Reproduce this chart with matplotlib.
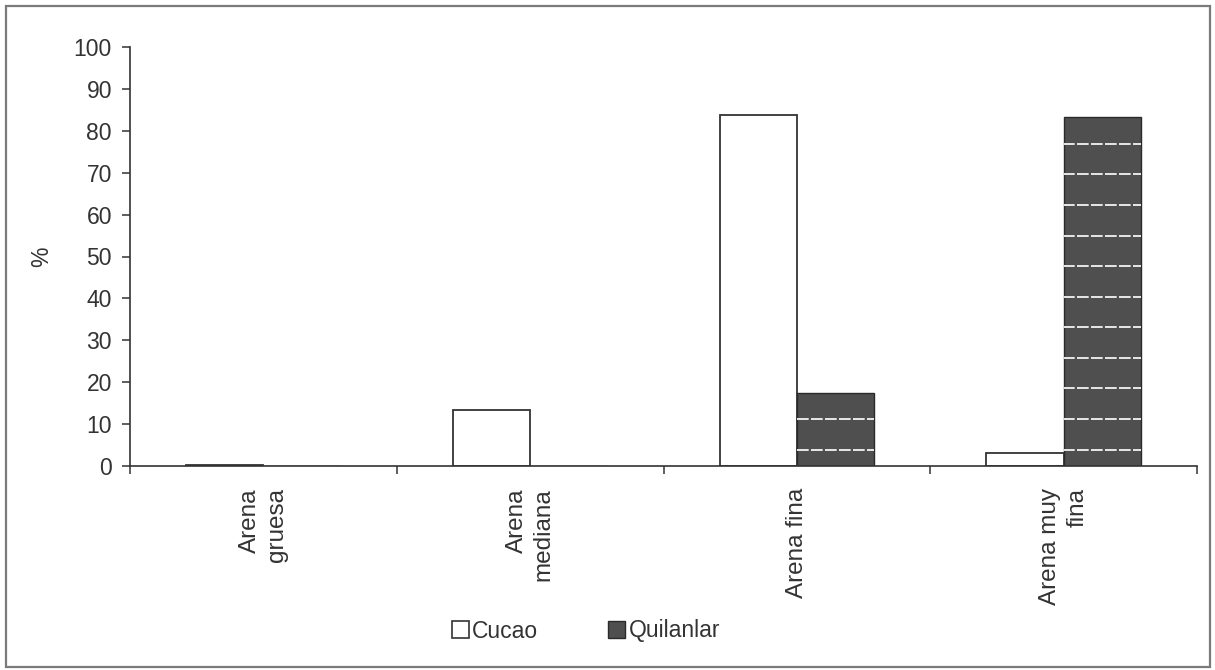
import matplotlib
matplotlib.use("Agg")
import matplotlib.pyplot as plt
from matplotlib.patches import Patch, Rectangle
import numpy as np

categories = ["Arena\ngruesa", "Arena\nmediana", "Arena fina", "Arena muy\nfina"]
series_names = ["Cucao", "Quilanlar"]
cucao = [0.3, 13.3, 83.7, 3.0]
quilanlar = [0.0, 0.0, 17.4, 83.3]
yticks = [0, 10, 20, 30, 40, 50, 60, 70, 80, 90, 100]

plt.rcParams['font.family'] = ['Liberation Sans', 'DejaVu Sans']
FS = 16.5
TXT = '#333333'

fig = plt.figure(figsize=(12.15, 6.70), dpi=100)
ax = fig.add_axes([130/1215, 1-466/670, (1197-130)/1215, (466-47)/670])

x = np.arange(len(categories))
w = 0.29
dark = '#4f4f4f'
b1 = ax.bar(x - w/2, cucao, w, color='white', edgecolor='#333333', linewidth=1.3, zorder=2)
b2 = ax.bar(x + w/2, quilanlar, w, color=dark, edgecolor='#2a2a2a', linewidth=1.0, zorder=2)

# white horizontal hatch lines inside the dark bars
hy = np.arange(3.9, 100, 7.3)
for p in b2.patches:
    if p.get_height() <= 0:
        continue
    lc = ax.hlines(hy, -1, 5, colors='#e8e8e8', linewidth=1.4,
                   linestyles=(0, (6, 1.2)), zorder=3)
    lc.set_clip_path(p)

ax.set_xlim(-0.5, len(categories) - 0.5)
ax.set_ylim(0, 100)
ax.set_yticks(yticks)
ax.set_yticklabels([str(v) for v in yticks], fontsize=FS, color=TXT)

ax.set_xticks(np.arange(len(categories) + 1) - 0.5)
ax.set_xticklabels([])
ax.set_xticks(x, minor=True)
ax.set_xticklabels(categories, minor=True, rotation=90, fontsize=17.5, color=TXT,
                   va='top', ha='center', multialignment='right', linespacing=1.3)
ax.tick_params(axis='x', which='major', direction='out', length=6, width=1.1, color='#333333')
ax.tick_params(axis='x', which='minor', length=0, pad=16)
ax.tick_params(axis='y', direction='out', length=6, width=1.1, color='#333333', pad=7)

for s in ['top', 'right']:
    ax.spines[s].set_visible(False)
for s in ['left', 'bottom']:
    ax.spines[s].set_color('#333333')
    ax.spines[s].set_linewidth(1.2)

ax.set_ylabel('%', fontsize=FS, color=TXT)
ax.yaxis.set_label_coords(-0.072, 0.5)

handles = [Patch(facecolor='white', edgecolor='#333333', linewidth=1.2),
           Patch(facecolor=dark, edgecolor='#2a2a2a', linewidth=1.0)]
leg = fig.legend(handles, series_names, loc='center', bbox_to_anchor=(586/1215, 1-631/670),
                 ncol=2, frameon=False, fontsize=FS, handlelength=0.75, handleheight=0.75,
                 handletextpad=0.15, columnspacing=3.05)
for t in leg.get_texts():
    t.set_color(TXT)

fig.patches.append(Rectangle((6/1215, 3/670), 1204/1215, 661/670, transform=fig.transFigure,
                             fill=False, edgecolor='#7a7a7a', linewidth=1.6))

fig.savefig('out.png', dpi=100, facecolor='white')
